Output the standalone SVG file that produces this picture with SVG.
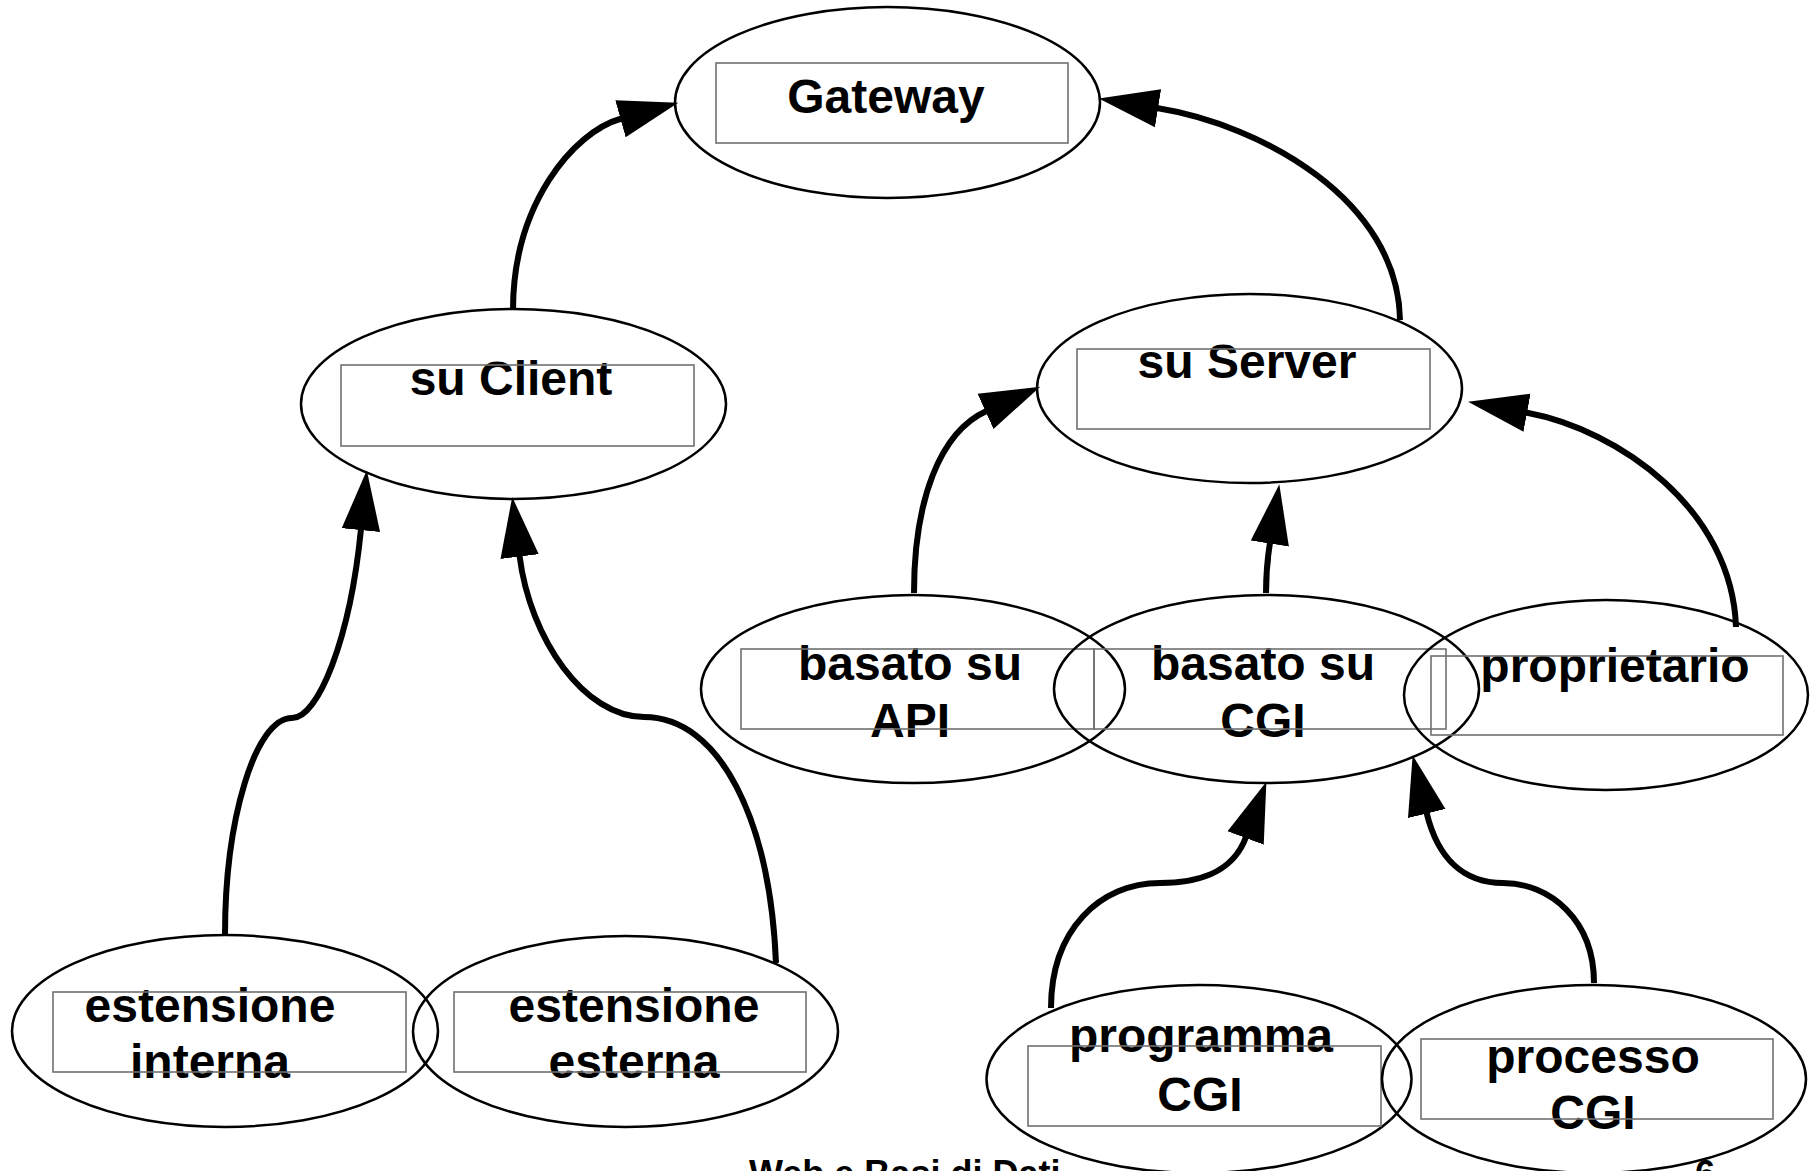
<svg xmlns="http://www.w3.org/2000/svg" width="1810" height="1171" viewBox="0 0 1810 1171">
<style>
.el{fill:none;stroke:#000;stroke-width:2.5}
.bx{fill:none;stroke:#707070;stroke-width:1.6}
.t{font-family:"Liberation Sans",Arial,Helvetica,sans-serif;font-weight:bold;font-size:48px;fill:#000;text-anchor:middle}
.ft{font-family:"Liberation Sans",Arial,Helvetica,sans-serif;font-weight:bold;font-size:36px;fill:#000}
.cn{fill:none;stroke:#000;stroke-width:6;marker-end:url(#ah)}
</style>
<defs>
<marker id="ah" markerUnits="userSpaceOnUse" markerWidth="60" markerHeight="40" viewBox="0 0 56 36" refX="1" refY="18" orient="auto">
<path d="M0,0 L56,18 L0,36 z" fill="#000"/>
</marker>
</defs>
<rect width="1810" height="1171" fill="#fff"/>

<g id="connectors">
<path class="cn" d="M513,310 C513,205 573,132 621.5,118.5"/>
<path class="cn" d="M1400,320 C1398,200 1262,125 1157,108"/>
<path class="cn" d="M225,935 C225,820 255,718 292,718 C318,718 350,640 361,529"/>
<path class="cn" d="M776,963 C770,820 720,717 644,717 C585,717 530,640 519.5,555.5"/>
<path class="cn" d="M914,593 C914,500 940,432 986.5,411"/>
<path class="cn" d="M1266,593 C1266,570 1268,555 1270,542.5"/>
<path class="cn" d="M1736,627 C1732,510 1620,430 1526,412.5"/>
<path class="cn" d="M1051,1008 C1051,930 1100,883 1160,883 C1195,883 1232,875 1246,837"/>
<path class="cn" d="M1594,983 C1594,920 1550,883 1503,883 C1465,883 1438,860 1426.5,812.5"/>
</g>

<g id="gateway">
<ellipse class="el" cx="887.5" cy="102.5" rx="212.5" ry="95.5"/>
<text class="t" x="886" y="113">Gateway</text>
<rect class="bx" x="716" y="63" width="352" height="80"/>
</g>

<g id="su-client">
<ellipse class="el" cx="513.5" cy="404" rx="212.5" ry="95"/>
<text class="t" x="511" y="395">su Client</text>
<rect class="bx" x="341" y="365" width="353" height="81"/>
</g>

<g id="su-server">
<ellipse class="el" cx="1249.5" cy="388.5" rx="212.5" ry="94.5"/>
<text class="t" x="1247" y="378">su Server</text>
<rect class="bx" x="1077" y="349" width="353" height="80"/>
</g>

<g id="basato-api">
<ellipse class="el" cx="913" cy="689" rx="212" ry="94"/>
<text class="t" x="910" y="680">basato su</text>
<text class="t" x="910" y="737">API</text>
<rect class="bx" x="741" y="649" width="353" height="80"/>
</g>

<g id="basato-cgi">
<ellipse class="el" cx="1266.5" cy="689" rx="212.5" ry="94"/>
<text class="t" x="1263" y="680">basato su</text>
<text class="t" x="1263" y="737">CGI</text>
<rect class="bx" x="1094" y="649" width="352" height="80"/>
</g>

<g id="proprietario">
<ellipse class="el" cx="1606" cy="695" rx="202" ry="95"/>
<text class="t" x="1615" y="682">proprietario</text>
<rect class="bx" x="1431" y="656" width="352" height="79"/>
</g>

<g id="estensione-interna">
<ellipse class="el" cx="225" cy="1031" rx="213" ry="96"/>
<text class="t" x="210" y="1022">estensione</text>
<text class="t" x="210" y="1078">interna</text>
<rect class="bx" x="53" y="992" width="353" height="80"/>
</g>

<g id="estensione-esterna">
<ellipse class="el" cx="625.5" cy="1031.5" rx="212.5" ry="95.5"/>
<text class="t" x="634" y="1022">estensione</text>
<text class="t" x="634" y="1078">esterna</text>
<rect class="bx" x="454" y="992" width="352" height="80"/>
</g>

<g id="programma-cgi">
<ellipse class="el" cx="1199" cy="1079" rx="212.5" ry="94"/>
<text class="t" x="1201" y="1052">programma</text>
<text class="t" x="1200" y="1111">CGI</text>
<rect class="bx" x="1028" y="1046" width="353" height="80"/>
</g>

<g id="processo-cgi">
<ellipse class="el" cx="1594" cy="1079" rx="212" ry="94"/>
<text class="t" x="1593" y="1073">processo</text>
<text class="t" x="1593" y="1129">CGI</text>
<rect class="bx" x="1421" y="1039" width="352" height="80"/>
</g>

<g id="footer">
<text class="ft" x="749" y="1186">Web e Basi di Dati</text>
<text class="ft" x="1695" y="1186">6</text>
</g>
</svg>
